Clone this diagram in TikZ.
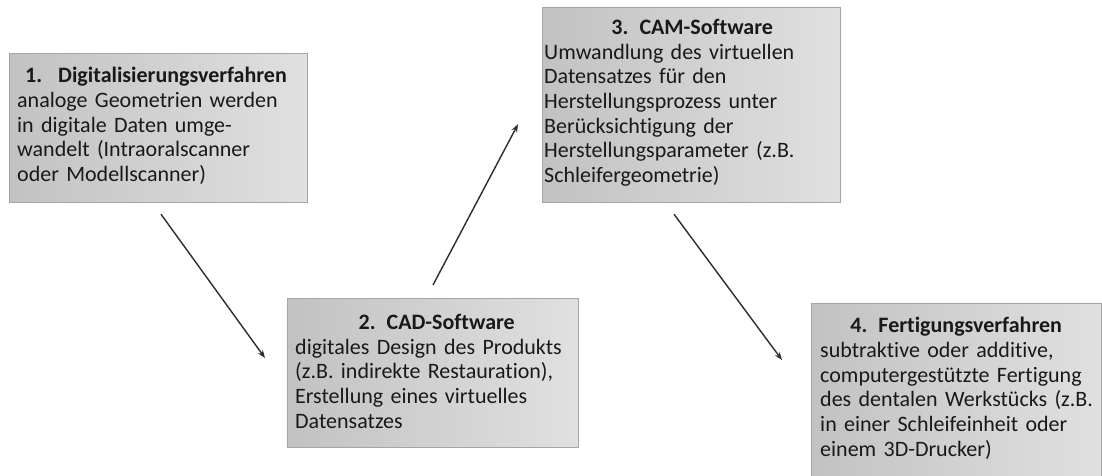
\documentclass[tikz,border=0pt]{standalone}
\usepackage{fontspec}
\setmainfont{Carlito}[Ligatures=NoCommon]
\usetikzlibrary{arrows.meta,calc}
\definecolor{boxleft}{RGB}{194,194,194}
\definecolor{boxright}{RGB}{224,224,224}
\definecolor{boxline}{RGB}{165,165,165}
\definecolor{arrowcol}{RGB}{45,45,45}
\definecolor{textcol}{RGB}{25,25,25}
\tikzset{
  box/.style={draw=boxline, line width=1.2pt, left color=boxleft, right color=boxright, anchor=north west, inner sep=0pt},
  boxtext/.style={anchor=north west, inner sep=0pt, align=left, text=textcol, font=\fontsize{22}{24.7}\selectfont},
  conn/.style={draw=arrowcol, line width=1.4pt, -{Stealth[length=8pt,width=6pt]}}
}
\newcommand{\ctitle}[2][\linewidth]{\makebox[#1][c]{\textbf{#2}}}
\begin{document}
\begin{tikzpicture}[x=1pt,y=-1pt]
\useasboundingbox (0,0) rectangle (1102,476);
\clip (0,0) rectangle (1102,476);
\fill[white] (0,0) rectangle (1102,476);
% boxes
\node[box, minimum width=298pt, minimum height=149pt] (b1) at (9,53) {};
\node[box, minimum width=291pt, minimum height=149pt] (b2) at (287,298) {};
\node[box, minimum width=298pt, minimum height=195pt] (b3) at (542,7) {};
\node[box, minimum width=290pt, minimum height=190pt] (b4) at (811,303) {};
% texts
\node[boxtext, text width=292pt] (t1) at ($(b1.north west)+(8,14)$)
  {\hspace*{8pt}\textbf{1.\hspace{16pt}Digitalisierungsverfahren}\\
   analoge Geometrien werden\\
   in digitale Daten umge-\\
   wandelt (Intraoralscanner\\
   oder Modellscanner)};
\node[boxtext, text width=283pt] (t2) at ($(b2.north west)+(8,16)$)
  {\ctitle{2. CAD-Software}\\
   digitales Design des Produkts\\
   (z.B. indirekte Restauration),\\
   Erstellung eines virtuelles\\
   Datensatzes};
\node[boxtext, text width=296pt] (t3) at ($(b3.north west)+(2,12)$)
  {\ctitle{3. CAM-Software}\\
   Umwandlung des virtuellen\\
   Datensatzes für den\\
   Herstellungsprozess unter\\
   Berücksichtigung der\\
   Herstellungsparameter (z.B.\\
   Schleifergeometrie)};
\node[boxtext, text width=300pt] (t4) at ($(b4.north west)+(9,14)$)
  {\ctitle[272pt]{4. Fertigungsverfahren}\\
   subtraktive oder additive,\\
   computergestützte Fertigung\\
   des dentalen Werkstücks (z.B.\\
   in einer Schleifeinheit oder\\
   einem 3D-Drucker)};
% connector end points
\coordinate (a1s) at ($(b1.south west)+(152,11)$);
\coordinate (a1e) at ($(b2.north west)+(-22,60)$);
\coordinate (a2s) at ($(b2.north west)+(146,-13)$);
\coordinate (a2e) at ($(b3.south west)+(-24,-79)$);
\coordinate (a3s) at ($(b3.south west)+(132,11)$);
\coordinate (a3e) at ($(b4.north west)+(-29,57)$);
\draw[conn] (a1s) -- (a1e);
\draw[conn] (a2s) -- (a2e);
\draw[conn] (a3s) -- (a3e);
\end{tikzpicture}
\end{document}
